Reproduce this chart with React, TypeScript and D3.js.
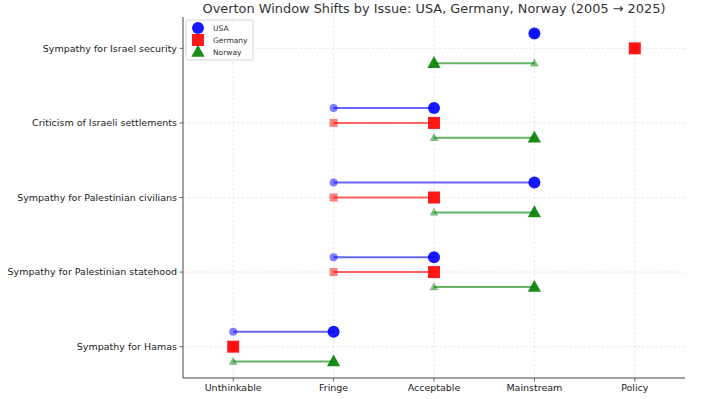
import React from "react";
import * as d3 from "d3";

const stages = ["Unthinkable", "Fringe", "Acceptable", "Mainstream", "Policy"];
const issues = [
  "Sympathy for Hamas",
  "Sympathy for Palestinian statehood",
  "Sympathy for Palestinian civilians",
  "Criticism of Israeli settlements",
  "Sympathy for Israel security",
];
const countries = ["USA", "Germany", "Norway"];
const colors = ["#0000ff", "#ff0000", "#008000"];
const shapes = ["circle", "square", "triangle"];
const offsets = [0.2, 0, -0.2];
// stage index per issue (order matches issues)
const usa2005 = [0, 1, 1, 1, 3];
const usa2025 = [1, 2, 3, 2, 3];
const germany2005 = [0, 1, 1, 1, 4];
const germany2025 = [0, 2, 2, 2, 4];
const norway2005 = [0, 2, 2, 2, 3];
const norway2025 = [1, 3, 3, 3, 2];
const from = [usa2005, germany2005, norway2005];
const to = [usa2025, germany2025, norway2025];

const W = 717, H = 399;
const L = 183, R = 685, T = 17, B = 378;

function Marker({ shape, x, y, size, color, opacity }: any) {
  if (shape === "circle") return <circle cx={x} cy={y} r={size / 2} fill={color} fillOpacity={opacity} />;
  if (shape === "square") return <rect x={x - size / 2} y={y - size / 2} width={size} height={size} fill={color} fillOpacity={opacity} />;
  const s = size * 1.1;
  const h = s * 0.9;
  const p = `${x},${y - h * 0.6} ${x + s / 2},${y + h * 0.4} ${x - s / 2},${y + h * 0.4}`;
  return <polygon points={p} fill={color} fillOpacity={opacity} />;
}

export default function App() {
  const x = d3.scaleLinear().domain([-0.5, 4.5]).range([L, R]);
  const y = d3.scaleLinear().domain([-0.42, 4.42]).range([B, T]);
  const font = "DejaVu Sans, sans-serif";
  return (
    <svg width={W} height={H} style={{ position: "absolute", left: 0, top: 0, background: "#fff" }}>
      <text x={(L + R) / 2} y={13} textAnchor="middle" fontFamily={font} fontSize={12.9} fill="#333">
        Overton Window Shifts by Issue: USA, Germany, Norway (2005 → 2025)
      </text>
      {stages.map((s, i) => (
        <line key={"gx" + i} x1={x(i)} x2={x(i)} y1={T} y2={B} stroke="#dcdcdc" strokeWidth={0.7} strokeDasharray="2.5,2" />
      ))}
      {issues.map((s, i) => (
        <line key={"gy" + i} x1={L} x2={R} y1={y(i)} y2={y(i)} stroke="#dcdcdc" strokeWidth={0.7} strokeDasharray="2.5,2" />
      ))}
      {countries.map((c, ci) =>
        issues.map((iss, ii) => {
          const yy = y(ii + offsets[ci]);
          const x0 = x(from[ci][ii]);
          const x1 = x(to[ci][ii]);
          return (
            <g key={c + ii}>
              <line x1={x0} x2={x1} y1={yy} y2={yy} stroke={colors[ci]} strokeOpacity={0.6} strokeWidth={2} />
              <Marker shape={shapes[ci]} x={x0} y={yy} size={8} color={colors[ci]} opacity={0.5} />
              <Marker shape={shapes[ci]} x={x1} y={yy} size={12} color={colors[ci]} opacity={0.9} />
            </g>
          );
        })
      )}
      <line x1={L} x2={L} y1={T} y2={B} stroke="#444" strokeWidth={1} />
      <line x1={L} x2={R} y1={B} y2={B} stroke="#444" strokeWidth={1} />
      {stages.map((s, i) => (
        <g key={"tx" + i}>
          <line x1={x(i)} x2={x(i)} y1={B} y2={B + 3.5} stroke="#666" />
          <text x={x(i)} y={B + 13} textAnchor="middle" fontFamily={font} fontSize={9.5} fill="#222">{s}</text>
        </g>
      ))}
      {issues.map((s, i) => (
        <g key={"ty" + i}>
          <line x1={L - 3.5} x2={L} y1={y(i)} y2={y(i)} stroke="#666" />
          <text x={L - 6} y={y(i)} dy="0.35em" textAnchor="end" fontFamily={font} fontSize={9.5} fill="#222">{s}</text>
        </g>
      ))}
      <g>
        <rect x={186} y={20} width={67} height={40} rx={2} fill="#fff" fillOpacity={0.8} stroke="#ccc" strokeWidth={0.8} />
        {countries.map((c, ci) => (
          <g key={"lg" + ci}>
            <Marker shape={shapes[ci]} x={198} y={28 + ci * 12} size={12} color={colors[ci]} opacity={0.9} />
            <text x={213} y={28 + ci * 12} dy="0.35em" fontFamily={font} fontSize={7.5} fill="#333">{c}</text>
          </g>
        ))}
      </g>
    </svg>
  );
}
